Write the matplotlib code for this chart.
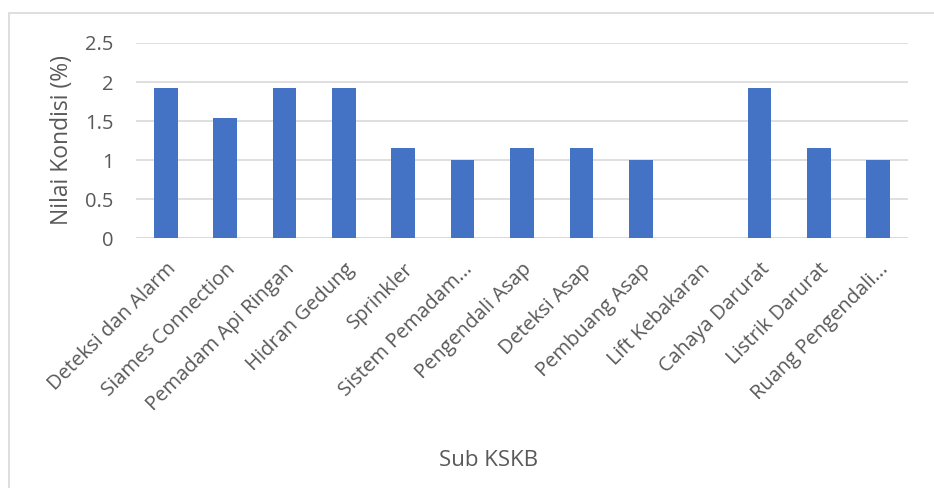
import matplotlib
matplotlib.use("agg")
import matplotlib.pyplot as plt
from matplotlib.patches import Rectangle

# Data
categories = [
    "Deteksi dan Alarm", "Siames Connection", "Pemadam Api Ringan",
    "Hidran Gedung", "Sprinkler", "Sistem Pemadam...", "Pengendali Asap",
    "Deteksi Asap", "Pembuang Asap", "Lift Kebakaran", "Cahaya Darurat",
    "Listrik Darurat", "Ruang Pengendali...",
]
values = [1.92, 1.54, 1.92, 1.92, 1.15, 1.00, 1.15, 1.15, 1.00, 0.0, 1.92, 1.15, 1.00]
yticks = [0, 0.5, 1, 1.5, 2, 2.5]
ytick_labels = ["0", "0.5", "1", "1.5", "2", "2.5"]

text_color = "#595959"
grid_color = "#d9d9d9"
bar_color = "#4472C4"

plt.rcParams['font.family'] = ['Open Sans', 'DejaVu Sans']

fig = plt.figure(figsize=(9.34, 4.88), dpi=100)

# outer chart frame (cropped at right/bottom)
fig.patches.append(Rectangle((9 / 934, -0.1), 1.2, 1 - 13 / 488 + 0.1,
                             transform=fig.transFigure, fill=False,
                             edgecolor=grid_color, linewidth=1.2))

ax = fig.add_axes([136 / 934, 1 - 238.3 / 488, (908 - 136) / 934, (238.3 - 43) / 488])

x = range(len(categories))
ax.bar(x, values, width=0.4, color=bar_color, zorder=3)

ax.set_xlim(-0.5, len(categories) - 0.5)
ax.set_ylim(0, 2.5)
ax.set_yticks(yticks)
ax.set_yticklabels(ytick_labels)
ax.yaxis.grid(True, color=grid_color, linewidth=1.2, zorder=0)
ax.set_axisbelow(True)
for s in ax.spines.values():
    s.set_visible(False)
ax.axhline(0, color=grid_color, linewidth=1.2, zorder=1)

ax.set_xticks(list(x))
ax.set_xticklabels(categories, rotation=45, ha="right", rotation_mode="anchor")
ax.tick_params(axis="both", length=0, labelsize=14.5, colors=text_color)
ax.tick_params(axis="x", pad=15)
ax.tick_params(axis="y", pad=16)

fig.text(62 / 934, 1 - 140 / 488, "Nilai Kondisi (%)", rotation=90,
         ha="center", va="center", fontsize=16.5, color=text_color)
fig.text(489 / 934, 1 - 461 / 488, "Sub KSKB", ha="center", va="center",
         fontsize=16, color=text_color)

fig.savefig("out.png", dpi=100)
